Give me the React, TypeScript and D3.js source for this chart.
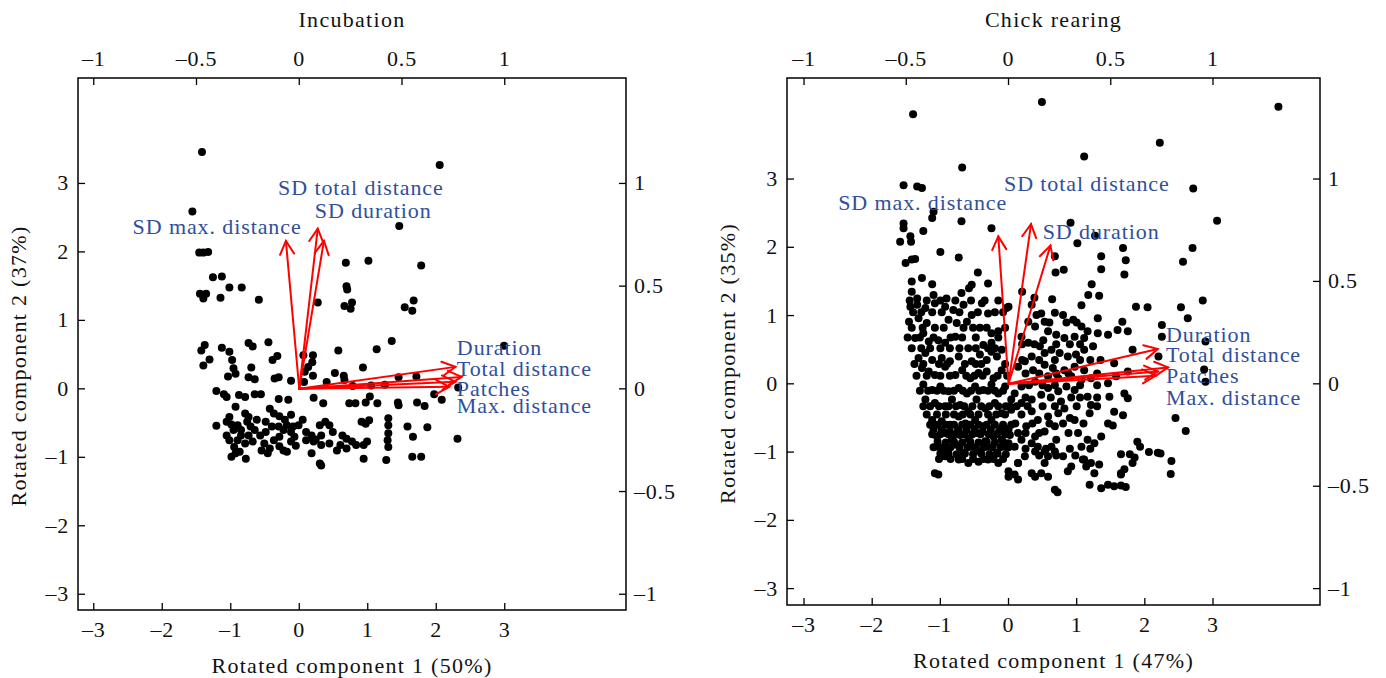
import React from "react";
import * as d3 from "d3";

type Pt = [number, number];

// ---- Data ----
const variableNames = [
  "Duration",
  "Total distance",
  "Patches",
  "Max. distance",
  "SD max. distance",
  "SD total distance",
  "SD duration",
];

const scoreTicks = [-3, -2, -1, 0, 1, 2, 3];
const loadingTicks = [-1, -0.5, 0, 0.5, 1];

// Incubation: rotated component scores (RC1, RC2)
const incubationScores: Pt[] = [
  [-1.42, 3.46], [2.05, 3.27], [-1.56, 2.59], [1.46, 2.38],
  [-1.46, 1.99], [-1.4, 1.99], [-1.33, 2.0],
  [0.68, 1.84], [1.01, 1.87], [1.78, 1.8],
  [-1.26, 1.63], [-1.13, 1.64], [-1.02, 1.48], [-0.84, 1.48],
  [0.69, 1.5], [0.7, 1.45],
  [-1.45, 1.39], [-1.36, 1.39], [-1.4, 1.32], [-1.15, 1.33], [-0.59, 1.3],
  [0.27, 1.26], [0.66, 1.21], [0.77, 1.26], [0.75, 1.17],
  [1.54, 1.19], [1.67, 1.29], [1.65, 1.14],
  [1.35, 0.7], [1.13, 0.58], [0.57, 0.56], [2.99, 0.63],
  [-1.38, 0.64], [-1.43, 0.56], [-1.13, 0.6], [-1.02, 0.54],
  [-0.74, 0.67], [-0.68, 0.62], [-0.45, 0.68],
  [-1.4, 0.34], [-1.31, 0.43], [-0.98, 0.42], [-0.96, 0.3], [-0.93, 0.22], [-1.04, 0.18],
  [-0.7, 0.31], [-0.74, 0.17], [-0.65, 0.14],
  [-0.39, 0.42], [-0.32, 0.48], [-0.36, 0.15], [-0.3, 0.17], [-0.12, 0.12],
  [0.06, 0.49], [0.2, 0.49], [0.19, 0.39], [0.08, 0.25], [0.2, 0.19], [0.13, 0.32],
  [0.07, 0.1], [0.4, 0.1], [0.52, 0.23], [0.65, 0.19], [0.66, 0.13], [0.93, 0.31],
  [0.78, 0.04], [1.05, 0.05], [1.25, 0.06], [1.45, 0.17], [1.71, 0.18],
  [1.97, -0.08], [2.08, -0.16], [2.32, 0.02], [2.31, -0.73],
  [-1.21, -0.03], [-1.1, -0.08], [-1.06, -0.12], [-0.88, -0.09], [-0.79, -0.12],
  [-0.65, -0.08], [-0.56, -0.08], [-0.3, -0.15], [-0.16, -0.16],
  [0.21, -0.13], [0.35, -0.21], [0.73, -0.21], [0.82, -0.21], [0.97, -0.2], [1.03, -0.11], [1.14, -0.21],
  [1.44, -0.2], [1.45, -0.24], [1.72, -0.2], [1.83, -0.25],
  [-0.93, -0.26], [-1.21, -0.54],
  [-1.02, -0.41], [-1.06, -0.48], [-0.99, -0.52], [-0.9, -0.53], [-0.79, -0.36], [-0.74, -0.41],
  [-0.76, -0.48], [-0.71, -0.55], [-0.85, -0.6], [-0.96, -0.6], [-1.06, -0.68], [-1.02, -0.75],
  [-0.9, -0.75], [-0.85, -0.68], [-0.74, -0.68], [-0.68, -0.77], [-0.79, -0.8], [-0.99, -0.99],
  [-0.93, -0.94], [-0.87, -0.92], [-0.78, -1.02],
  [-0.43, -0.29], [-0.37, -0.36], [-0.29, -0.4], [-0.21, -0.45], [-0.12, -0.38], [-0.49, -0.48],
  [-0.4, -0.55], [-0.49, -0.63], [-0.57, -0.68], [-0.51, -0.8], [-0.43, -0.87], [-0.37, -0.75],
  [-0.29, -0.7], [-0.23, -0.6], [-0.18, -0.53], [-0.09, -0.55], [-0.01, -0.53], [-0.12, -0.63],
  [-0.07, -0.7], [-0.12, -0.77], [-0.29, -0.84], [-0.23, -0.9], [-0.46, -0.94], [-0.18, -0.92],
  [0.1, -0.63], [0.18, -0.68], [0.24, -0.74], [0.3, -0.53], [0.38, -0.48], [0.44, -0.53],
  [0.49, -0.63], [0.32, -0.68], [0.21, -0.77], [0.1, -0.75], [0.32, -0.82], [0.44, -0.8],
  [0.18, -0.94], [0.3, -1.09], [0.32, -1.12],
  [0.63, -0.68], [0.69, -0.73], [0.77, -0.77], [0.69, -0.87], [0.6, -0.82], [0.83, -0.82],
  [0.94, -0.82], [0.99, -0.77], [0.91, -0.48], [0.97, -0.51], [1.02, -0.46], [0.94, -1.02],
  [1.3, -0.43], [1.3, -0.53], [1.3, -0.65], [1.29, -0.75], [1.3, -0.85], [1.27, -1.04],
  [1.58, -0.55], [1.66, -0.7], [1.87, -0.56], [1.65, -0.99], [1.78, -0.99],
  [-0.62, -0.45], [-0.55, -0.9], [-0.05, -0.83], [0.05, -0.45], [-0.65, -0.6], [-0.3, -0.55],
  [0.55, -0.9], [-0.95, -0.85],
];

// Chick rearing: rotated component scores (RC1, RC2)
const chickScores: Pt[] = [
  [0.49, 4.13], [-1.4, 3.95], [3.96, 4.06], [2.22, 3.53], [1.11, 3.33], [-0.68, 3.17],
  [-1.54, 2.91], [-1.34, 2.89], [-1.27, 2.87], [-1.1, 2.52], [-1.12, 2.43], [-1.54, 2.35],
  [-1.54, 2.28], [-1.59, 2.08], [-1.44, 2.16], [-1.43, 2.08], [-1.25, 2.24], [-0.69, 2.38],
  [-0.25, 2.28], [-1.0, 1.93], [-0.73, 1.85], [-1.51, 1.77], [-1.42, 1.82], [-1.37, 1.83],
  [-1.27, 1.55], [-0.45, 1.63], [-0.54, 1.45], [-0.58, 1.4], [-0.3, 1.47], [-1.12, 1.46],
  [-1.1, 1.3], [-1.42, 1.5], [-1.42, 1.35], [-1.34, 1.25], [-0.91, 1.25], [-0.69, 1.33],
  [2.71, 2.86], [3.06, 2.39], [0.91, 2.36], [1.01, 2.06], [1.27, 2.17], [1.68, 1.99],
  [1.72, 1.81], [1.7, 1.6], [1.36, 1.87], [1.36, 1.68], [2.7, 1.99], [2.56, 1.79],
  [0.68, 1.87], [0.69, 1.63], [0.81, 1.67], [1.22, 1.46], [1.17, 1.3], [1.33, 1.29],
  [0.2, 1.35], [0.38, 1.26], [0.64, 1.24], [1.07, 1.15], [1.87, 1.13], [2.04, 1.12],
  [2.53, 1.12], [2.85, 1.22], [0.0, 1.13],
  [2.63, 0.96], [2.25, 0.86], [2.25, 0.69], [2.2, 0.4], [2.89, 0.62], [2.87, 0.21],
  [2.89, 0.03], [2.45, -0.5], [2.6, -0.69], [1.89, -0.85], [1.93, -0.92], [2.06, -1.0],
  [2.19, -1.01], [2.23, -1.02], [1.65, -1.03], [1.78, -1.03], [1.85, -1.08], [1.82, -1.16],
  [2.39, -1.13], [2.38, -1.32], [1.65, -1.31], [1.46, -1.48], [1.55, -1.5], [1.65, -1.49],
  [1.72, -1.51], [1.36, -1.53], [1.19, -1.48], [0.68, -1.55], [0.72, -1.59], [1.26, -1.31],
  [1.21, -1.16], [1.33, -1.18], [1.09, -1.11], [1.14, -1.21], [0.87, -1.28], [0.92, -1.21],
  [0.53, -1.16], [0.48, -1.31], [0.58, -1.36], [0.34, -1.31], [0.39, -1.36], [0.14, -1.16],
  [0.09, -1.33], [0.0, -1.28],
  [1.48, -0.19], [1.55, -0.41], [1.46, -0.58], [1.53, -0.61], [1.68, -0.46], [1.7, -0.14],
  [1.75, -0.21], [1.16, -0.19], [1.21, -0.31], [1.19, -0.43], [0.9, -0.5], [0.97, -0.53],
  [0.77, -0.26], [0.82, -0.36], [1.36, -0.77], [1.26, -0.87], [1.16, -0.82], [1.07, -0.92],
  [1.02, -0.72], [1.31, 0.96],
  [0.41, 1.01], [0.53, 0.91], [0.68, 1.04], [0.8, 1.01], [0.95, 0.94], [1.07, 0.84],
  [1.16, 0.77], [1.11, 0.67], [0.97, 0.69], [0.82, 0.67], [0.7, 0.72], [0.58, 0.77],
  [0.51, 0.64], [0.46, 0.55], [0.53, 0.45], [0.63, 0.5], [0.75, 0.45], [0.87, 0.4],
  [0.99, 0.43], [1.11, 0.5], [1.24, 0.55], [1.31, 0.74], [1.46, 0.72], [1.6, 0.79],
  [1.67, 0.91], [1.75, 0.77], [0.19, 0.69], [0.29, 0.6], [0.34, 0.4], [0.24, 0.33],
  [0.14, 0.25], [0.36, 0.2], [0.53, 0.28], [0.65, 0.23], [0.82, 0.2], [0.97, 0.25],
  [1.11, 0.2], [1.21, 0.08], [1.07, 0.06], [0.92, 0.11], [0.73, 0.08], [0.58, 0.11],
  [0.39, 0.03], [0.19, -0.04], [0.09, -0.14], [0.04, -0.23], [0.19, -0.28], [0.34, -0.23],
  [0.48, -0.16], [0.58, -0.06], [0.73, -0.11], [0.85, -0.04], [0.97, -0.09],
  [0.04, -0.38], [0.19, -0.45], [0.34, -0.4], [0.43, -0.53], [0.58, -0.48], [0.73, -0.43],
  [0.26, -0.62], [0.14, -0.72], [0.0, -0.67], [0.53, -0.7], [0.68, -0.62], [0.39, -0.77],
  [0.7, -0.82], [0.63, -0.92], [0.68, -0.99], [0.8, -1.06], [0.58, -1.06], [0.53, -0.99],
  [0.43, -0.92], [0.34, -0.87], [0.39, -0.99], [0.19, -0.82], [0.09, -0.92], [0.0, -0.87],
  [0.24, -1.06], [0.14, -1.16], [1.11, -1.11], [1.7, -1.25], [1.65, -1.33],
  [1.46, 0.01], [1.58, 0.11], [1.55, 0.3], [1.75, 0.18], [1.82, 0.5],
  [0.34, 1.16], [0.48, 1.03], [0.29, 0.91], [0.39, 0.84],
  [-1.44, 1.13], [-1.34, 1.16], [-1.22, 1.11], [-1.08, 1.18], [-0.93, 1.13], [-0.81, 1.08],
  [-0.66, 1.16], [-0.39, 1.18], [-0.54, 1.01], [-0.3, 1.03], [-0.03, 1.11],
  [-1.46, 0.91], [-1.32, 0.96], [-1.2, 0.89], [-0.88, 0.94], [-0.76, 0.89], [-0.61, 0.91],
  [-0.52, 0.82], [-0.25, 0.74], [-0.15, 0.77],
  [-1.37, 0.67], [-1.25, 0.74], [-1.17, 0.62], [-1.03, 0.64], [-0.93, 0.6], [-0.78, 0.69],
  [-0.59, 0.52], [-0.37, 0.57], [-0.25, 0.6],
  [-1.32, 0.38], [-1.22, 0.45], [-1.12, 0.35], [-0.98, 0.38], [-0.86, 0.33], [-0.73, 0.4],
  [-0.54, 0.33], [-0.42, 0.43], [-0.32, 0.35], [-0.25, 0.47], [-0.17, 0.4], [-0.1, 0.5],
  [-1.27, 0.23], [-1.17, 0.18], [-1.08, 0.13], [-0.93, 0.25], [-0.78, 0.13], [-0.68, 0.2],
  [-0.56, 0.08], [-0.44, 0.16], [-0.32, 0.18], [-0.22, 0.08], [-0.1, 0.2],
  [-1.25, -0.01], [-1.12, -0.09], [-1.0, -0.04], [-0.88, -0.11], [-0.73, -0.06], [-0.61, -0.14],
  [-0.49, -0.04], [-0.37, -0.09], [-0.25, -0.01], [-0.15, -0.14], [-0.05, -0.04],
  [-1.22, -0.23], [-1.08, -0.28], [-0.93, -0.33], [-0.83, -0.23], [-0.71, -0.31], [-0.59, -0.4],
  [-0.47, -0.23], [-0.34, -0.36], [-0.2, -0.28], [-0.1, -0.43], [0.02, -0.33],
  [-1.12, -0.53], [-0.98, -0.55], [-0.86, -0.6], [-0.73, -0.48], [-0.63, -0.58], [-0.49, -0.53],
  [-0.37, -0.62], [-0.25, -0.53], [-0.1, -0.65],
  [-1.1, -0.67], [-0.98, -0.67], [-0.86, -0.7], [-0.74, -0.67], [-0.62, -0.68], [-0.5, -0.66],
  [-0.38, -0.7], [-0.26, -0.67], [-0.14, -0.7], [-0.02, -0.66],
  [-1.05, -0.77], [-0.93, -0.72], [-0.83, -0.82], [-0.71, -0.75], [-0.59, -0.8], [-0.47, -0.72],
  [-0.34, -0.84], [-0.22, -0.77], [-0.1, -0.82], [0.02, -0.75],
  [-1.04, -0.85], [-0.92, -0.86], [-0.8, -0.85], [-0.68, -0.86], [-0.56, -0.85], [-0.44, -0.86],
  [-0.32, -0.85], [-0.2, -0.86], [-0.08, -0.85],
  [-1.03, -0.92], [-0.9, -0.97], [-0.78, -0.89], [-0.66, -1.01], [-0.54, -0.92], [-0.42, -0.99],
  [-0.3, -0.92], [-0.17, -1.01], [-0.05, -0.92],
  [-1.0, -1.02], [-0.88, -1.02], [-0.76, -1.03], [-0.64, -1.02], [-0.52, -1.03], [-0.4, -1.02],
  [-0.28, -1.03], [-0.16, -1.02], [-0.04, -1.03],
  [-0.93, -1.06], [-0.73, -1.11], [-0.59, -1.16], [-0.44, -1.14], [-0.3, -1.11], [-0.15, -1.16],
  [-1.03, -1.33], [-1.08, -1.31], [0.0, -1.36], [0.14, -1.4],
  // denser fill of the main cloud
  [-1.45, 1.22], [-1.2, 1.22], [-1.0, 1.22], [-0.78, 1.22], [-0.55, 1.22], [-0.35, 1.22], [-0.15, 1.22],
  [-1.4, 1.05], [-1.28, 1.05], [-1.12, 1.05], [-0.98, 1.05], [-0.72, 1.05], [-0.45, 1.05], [-0.2, 1.05], [-0.08, 1.05],
  [-1.42, 0.82], [-1.26, 0.82], [-1.08, 0.82], [-0.95, 0.82], [-0.66, 0.82], [-0.42, 0.82], [-0.32, 0.82], [-0.05, 0.82],
  [-1.48, 0.68], [-1.3, 0.68], [-1.1, 0.68], [-0.85, 0.68], [-0.68, 0.68], [-0.48, 0.68], [-0.15, 0.68],
  [-1.42, 0.52], [-1.28, 0.52], [-1.15, 0.52], [-1.0, 0.52], [-0.86, 0.52], [-0.72, 0.52], [-0.48, 0.52], [-0.3, 0.52], [-0.2, 0.52],
  [-1.38, 0.29], [-1.25, 0.29], [-1.02, 0.29], [-0.9, 0.29], [-0.64, 0.29], [-0.48, 0.29], [-0.4, 0.29], [-0.05, 0.29],
  [-1.35, 0.12], [-1.2, 0.12], [-1.0, 0.12], [-0.86, 0.12], [-0.62, 0.12], [-0.5, 0.12], [-0.38, 0.12], [-0.16, 0.12], [-0.02, 0.12],
  [-1.3, -0.1], [-1.18, -0.1], [-1.05, -0.1], [-0.95, -0.1], [-0.8, -0.1], [-0.67, -0.1], [-0.55, -0.1], [-0.43, -0.1], [-0.3, -0.1], [-0.2, -0.1], [-0.08, -0.1],
  [-1.25, -0.33], [-1.15, -0.33], [-1.02, -0.33], [-0.88, -0.33], [-0.77, -0.33], [-0.65, -0.33], [-0.53, -0.33], [-0.4, -0.33], [-0.28, -0.33], [-0.15, -0.33], [-0.04, -0.33],
  [-1.2, -0.45], [-1.05, -0.45], [-0.92, -0.45], [-0.8, -0.45], [-0.67, -0.45], [-0.56, -0.45], [-0.44, -0.45], [-0.3, -0.45], [-0.18, -0.45], [-0.05, -0.45],
  [-1.15, -0.6], [-1.04, -0.6], [-0.92, -0.6], [-0.8, -0.6], [-0.68, -0.6], [-0.56, -0.6], [-0.44, -0.6], [-0.32, -0.6], [-0.2, -0.6], [-0.08, -0.6], [0.04, -0.6],
  [-1.12, -0.74], [-1.0, -0.74], [-0.88, -0.74], [-0.77, -0.74], [-0.65, -0.74], [-0.53, -0.74], [-0.41, -0.74], [-0.29, -0.74], [-0.17, -0.74], [-0.05, -0.74],
  [-1.1, -0.93], [-0.97, -0.93], [-0.85, -0.93], [-0.72, -0.93], [-0.6, -0.93], [-0.48, -0.93], [-0.36, -0.93], [-0.24, -0.93], [-0.12, -0.93], [0.0, -0.93],
  [-1.02, -1.1], [-0.85, -1.1], [-0.68, -1.1], [-0.52, -1.1], [-0.37, -1.1], [-0.22, -1.1], [-0.08, -1.1],
  [0.6, 0.9], [0.85, 0.9], [1.0, 0.9],
  [0.2, 0.58], [0.38, 0.58], [0.7, 0.58], [0.9, 0.58], [1.05, 0.58],
  [0.2, 0.35], [0.45, 0.35], [0.68, 0.35], [1.05, 0.35], [1.2, 0.35], [1.35, 0.35],
  [0.25, 0.15], [0.45, 0.15], [0.7, 0.15], [0.88, 0.15], [1.3, 0.15],
  [0.3, -0.02], [0.5, -0.02], [0.68, -0.02], [1.05, -0.02], [1.3, -0.02],
  [0.25, -0.2], [0.62, -0.2], [0.92, -0.2], [1.05, -0.2], [1.3, -0.2],
  [0.12, -0.33], [0.28, -0.33], [0.5, -0.33], [0.68, -0.33], [1.0, -0.33], [1.3, -0.33],
  [0.1, -0.58], [0.35, -0.58], [0.6, -0.58], [0.8, -0.58], [1.1, -0.58],
  [0.25, -0.72], [0.45, -0.72], [0.88, -0.72],
  [0.25, -0.95], [0.55, -0.95], [0.9, -0.95], [1.2, -0.95],
  [0.45, -1.05], [0.7, -1.05], [0.98, -1.05],
];

// Loadings, same order as variableNames
const incubationLoadings: Pt[] = [
  [0.76, 0.107], [0.79, 0.058], [0.76, 0.034], [0.73, 0.01],
  [-0.065, 0.72], [0.09, 0.78], [0.12, 0.72],
];
const chickLoadings: Pt[] = [
  [0.73, 0.17], [0.78, 0.08], [0.73, 0.06], [0.72, 0.04],
  [-0.05, 0.72], [0.11, 0.78], [0.205, 0.675],
];

// Label placement (loading units) and alignment
const incubationLabelAt: Pt[] = [
  [0.767, 0.2], [0.767, 0.1], [0.767, 0.003], [0.767, -0.083],
  [-0.4, 0.79], [0.3, 0.98], [0.36, 0.87],
];
const chickLabelAt: Pt[] = [
  [0.77, 0.24], [0.77, 0.143], [0.77, 0.04], [0.77, -0.067],
  [-0.42, 0.883], [0.383, 0.977], [0.453, 0.743],
];
const labelAnchor = ["start", "start", "start", "start", "middle", "middle", "middle"];

const FONT = "'Liberation Serif', 'Times New Roman', serif";
const LABEL_BLUE = "#2f4f9b";

function fmt(v: number) {
  const s = String(Math.abs(v));
  return v < 0 ? "\u2013" + s : s;
}

type PanelProps = {
  title: string;
  xLabel: string;
  yLabel: string;
  scores: Pt[];
  loadings: Pt[];
  labelAt: Pt[];
  frame: { left: number; right: number; top: number; bottom: number };
  xDomain: [number, number];
  yDomain: [number, number];
};

function Panel(p: PanelProps) {
  const { left, right, top, bottom } = p.frame;
  const x = d3.scaleLinear().domain(p.xDomain).range([left, right]);
  const y = d3.scaleLinear().domain(p.yDomain).range([bottom, top]);
  const xl = d3.scaleLinear().domain([p.xDomain[0] / 3, p.xDomain[1] / 3]).range([left, right]);
  const yl = d3.scaleLinear().domain([p.yDomain[0] / 3, p.yDomain[1] / 3]).range([bottom, top]);
  const cx = (left + right) / 2;
  const cy = (top + bottom) / 2;
  const tick = 7;
  const headLen = 15;
  const headAng = (28 * Math.PI) / 180;

  return (
    <g>
      <g>
        {p.scores.map((d, i) => (
          <circle key={i} cx={x(d[0])} cy={y(d[1])} r={4} fill="#000" />
        ))}
      </g>
      <g stroke="#ff0000" strokeWidth={2} fill="none" strokeLinecap="round">
        {p.loadings.map((d, i) => {
          const x0 = xl(0), y0 = yl(0);
          const x1 = xl(d[0]), y1 = yl(d[1]);
          const a = Math.atan2(y1 - y0, x1 - x0);
          const h1 = [x1 - headLen * Math.cos(a - headAng), y1 - headLen * Math.sin(a - headAng)];
          const h2 = [x1 - headLen * Math.cos(a + headAng), y1 - headLen * Math.sin(a + headAng)];
          return (
            <g key={i}>
              <line x1={x0} y1={y0} x2={x1} y2={y1} />
              <polyline points={`${h1[0]},${h1[1]} ${x1},${y1} ${h2[0]},${h2[1]}`} />
            </g>
          );
        })}
      </g>
      <g fontFamily={FONT} fontSize={22} fill={LABEL_BLUE} letterSpacing={0.9}>
        {variableNames.map((n, i) => (
          <text
            key={n}
            x={xl(p.labelAt[i][0])}
            y={yl(p.labelAt[i][1])}
            textAnchor={labelAnchor[i] as any}
            dominantBaseline="central"
          >
            {n}
          </text>
        ))}
      </g>
      <rect x={left} y={top} width={right - left} height={bottom - top} fill="none" stroke="#000" strokeWidth={1.5} />
      <g stroke="#000" strokeWidth={1.3}>
        {scoreTicks.map((t) => (
          <line key={"b" + t} x1={x(t)} x2={x(t)} y1={bottom} y2={bottom - tick} />
        ))}
        {scoreTicks.map((t) => (
          <line key={"l" + t} x1={left} x2={left + tick} y1={y(t)} y2={y(t)} />
        ))}
        {loadingTicks.map((t) => (
          <line key={"t" + t} x1={xl(t)} x2={xl(t)} y1={top} y2={top + tick} />
        ))}
        {loadingTicks.map((t) => (
          <line key={"r" + t} x1={right} x2={right - tick} y1={yl(t)} y2={yl(t)} />
        ))}
      </g>
      <g fontFamily={FONT} fontSize={22} fill="#111" letterSpacing={0.8}>
        {scoreTicks.map((t) => (
          <text key={"bl" + t} x={x(t)} y={bottom + 27} textAnchor="middle">{fmt(t)}</text>
        ))}
        {scoreTicks.map((t) => (
          <text key={"ll" + t} x={left - 9} y={y(t) + 7} textAnchor="end">{fmt(t)}</text>
        ))}
        {loadingTicks.map((t) => (
          <text key={"tl" + t} x={xl(t)} y={top - 12} textAnchor="middle">{fmt(t)}</text>
        ))}
        {loadingTicks.map((t) => (
          <text key={"rl" + t} x={right + 8} y={yl(t) + 7} textAnchor="start">{fmt(t)}</text>
        ))}
      </g>
      <g fontFamily={FONT} fontSize={22} fill="#111" letterSpacing={1.3}>
        <text x={cx} y={top - 51} textAnchor="middle">{p.title}</text>
        <text x={cx} y={bottom + 63} textAnchor="middle">{p.xLabel}</text>
        <text transform={`translate(${left - 52},${cy + 22}) rotate(-90)`} textAnchor="middle">{p.yLabel}</text>
      </g>
    </g>
  );
}

export default function App() {
  return (
    <svg
      width={1386}
      height={678}
      style={{ position: "absolute", left: 0, top: 0, background: "#fff" }}
    >
      <rect x={0} y={0} width={1386} height={678} fill="#fff" />
      <Panel
        title="Incubation"
        xLabel="Rotated component 1 (50%)"
        yLabel="Rotated component 2 (37%)"
        scores={incubationScores}
        loadings={incubationLoadings}
        labelAt={incubationLabelAt}
        frame={{ left: 78, right: 626, top: 78, bottom: 610 }}
        xDomain={[-3.23, 4.77]}
        yDomain={[-3.23, 4.54]}
      />
      <Panel
        title="Chick rearing"
        xLabel="Rotated component 1 (47%)"
        yLabel="Rotated component 2 (35%)"
        scores={chickScores}
        loadings={chickLoadings}
        labelAt={chickLabelAt}
        frame={{ left: 787, right: 1320, top: 78, bottom: 605 }}
        xDomain={[-3.25, 4.57]}
        yDomain={[-3.24, 4.48]}
      />
    </svg>
  );
}
